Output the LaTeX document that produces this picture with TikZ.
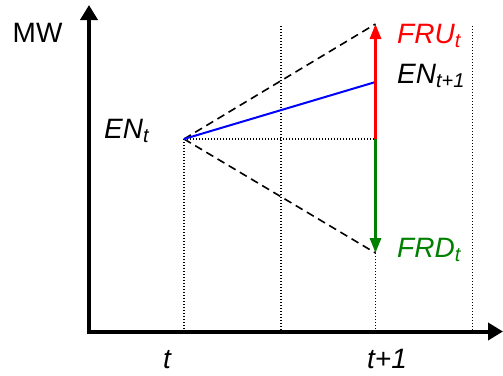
\documentclass[tikz,border=0pt]{standalone}
\usepackage{fontspec}
\setmainfont{Liberation Sans}
\usetikzlibrary{arrows.meta}
\newcommand{\mysub}[1]{\raisebox{-4pt}{\fontsize{20}{20}\selectfont #1}}
\definecolor{myred}{RGB}{255,0,0}
\definecolor{mygreen}{RGB}{0,128,0}
\definecolor{myblue}{RGB}{0,0,255}
\begin{document}
\begin{tikzpicture}[x=1pt,y=-1pt,
  axis/.style={line width=4pt,-{Triangle[length=15pt,width=17pt]}},
  guide/.style={line width=1.2pt,dash pattern=on 1.3pt off 1.7pt},
  bound/.style={line width=1.6pt,dash pattern=on 8pt off 5pt},
  lbl/.style={anchor=base west,inner sep=0pt,font=\fontsize{28}{28}\selectfont\itshape},
  marr/.style={line width=3pt,-{Triangle[length=15pt,width=11pt]}}]
\useasboundingbox (0,0) rectangle (503,375);
% coordinates
\coordinate (O) at (89,331.5);
\coordinate (Ytop) at (89,5);
\coordinate (Xend) at (503,331.5);
\coordinate (P) at (184,139);
\coordinate (Up) at (375.5,24);
\coordinate (Dn) at (375.5,253);
\coordinate (Mid) at (375.5,139);
\coordinate (B) at (375.5,82);
\coordinate (Pb) at (184,330);
\coordinate (Ga) at (281,26);
\coordinate (Gab) at (281,330);
\coordinate (Gb) at (472.5,26);
\coordinate (Gbb) at (472.5,330);
\coordinate (Dnb) at (375.5,330);
% guides
\draw[guide] (P) -- (Pb);
\draw[guide] (Ga) -- (Gab);
\draw[guide] (Gb) -- (Gbb);
\draw[guide] (Dn) -- (Dnb);
\draw[guide] (P) -- (Mid);
% bounds
\draw[bound] (P) -- (Up);
\draw[bound] (P) -- (Dn);
% blue
\draw[myblue,line width=2pt] (P) -- (B);
% arrows
\draw[marr,myred] (Mid) -- (Up);
\draw[marr,mygreen] (Mid) -- (Dn);
% axes
\draw[axis] ([yshift=2pt]O) -- (Ytop);
\draw[axis] ([xshift=-2pt]O) -- (Xend);
% labels
\node[anchor=base west,inner sep=0pt,font=\fontsize{28}{28}\selectfont] (mw) at (12.5,42) {MW};
\node[lbl] (ent) at (104,138) {EN\mysub{t}};
\node[lbl,text=myred] (fru) at (397,43) {FRU\mysub{t}};
\node[lbl] (ent1) at (397,83) {EN\mysub{t+1}};
\node[lbl,text=mygreen] (frd) at (397,257) {FRD\mysub{t}};
\node[lbl] (tl) at (163,368) {t};
\node[lbl] (t1l) at (367,368) {t+1};
\end{tikzpicture}
\end{document}
